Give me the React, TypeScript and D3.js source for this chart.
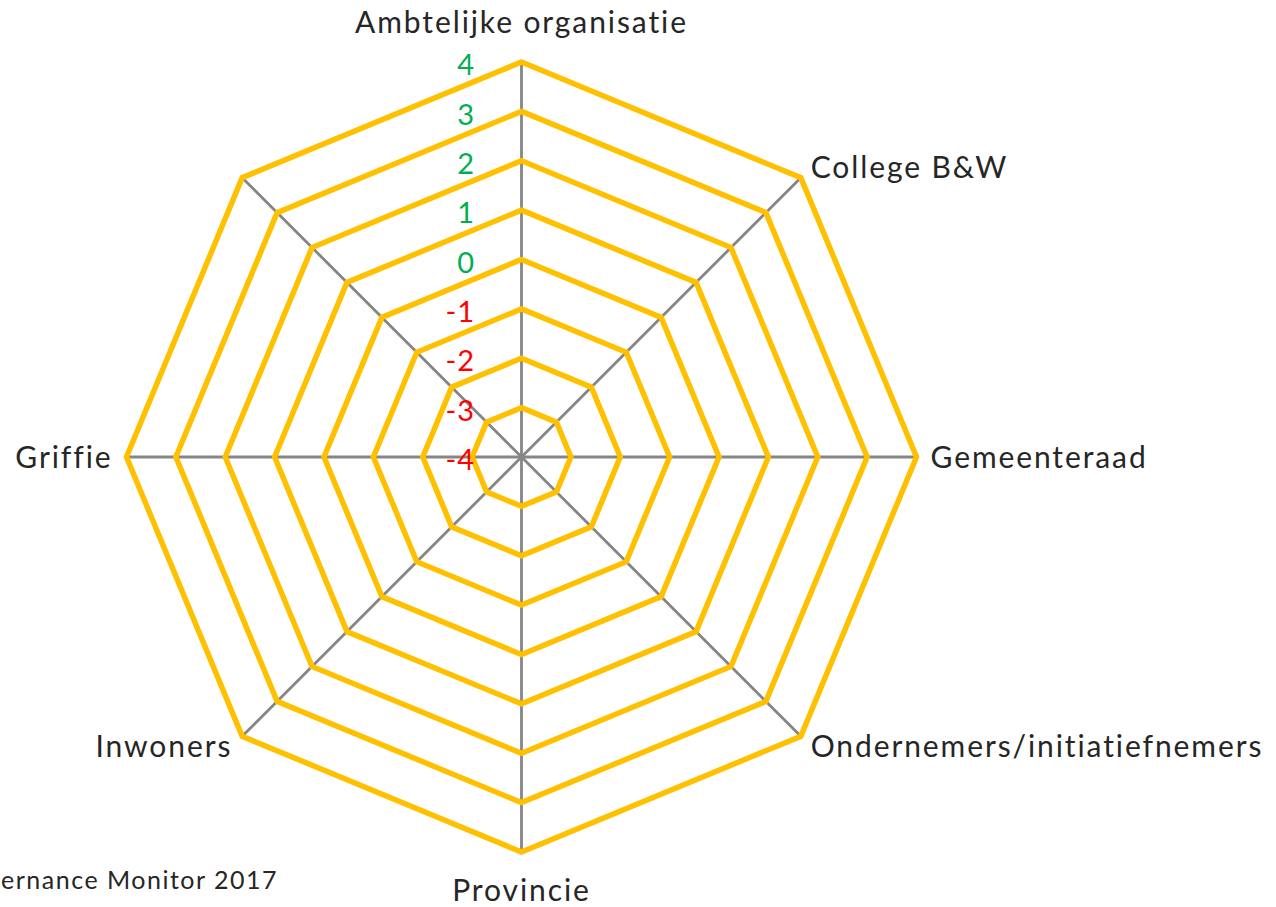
import React from "react";
import * as d3 from "d3";

// axis names, clockwise from the top
const spokes = [
  "Ambtelijke organisatie",
  "College B&W",
  "Gemeenteraad",
  "Ondernemers/initiatiefnemers",
  "Provincie",
  "Inwoners",
  "Griffie",
  "",
];
const levels = [-4, -3, -2, -1, 0, 1, 2, 3, 4];
const tickLabels = ["-4", "-3", "-2", "-1", "0", "1", "2", "3", "4"];
const source = "Governance Monitor 2017";

const width = 1276;
const height = 907;
const cx = 521.5;
const cy = 457;
const font = "Lato, 'Open Sans', sans-serif";

const App = () => {
  const r = d3.scaleLinear().domain([-4, 4]).range([0, 395]);
  const angle = d3
    .scaleLinear()
    .domain([0, spokes.length])
    .range([0, 2 * Math.PI]);

  const pt = (i: number, rad: number): [number, number] => [
    cx + rad * Math.sin(angle(i)),
    cy - rad * Math.cos(angle(i)),
  ];

  const ringPath = (lv: number) =>
    d3.line()(spokes.map((_, i) => pt(i, r(lv)))) + "Z";

  const labelPos = (i: number) => {
    const a = angle(i);
    const s = Math.sin(a);
    const c = Math.cos(a);
    let [x, y] = pt(i, r(4) + 14);
    let anchor = "middle";
    if (s > 0.1) anchor = "start";
    if (s < -0.1) anchor = "end";
    let dy = "0.35em";
    if (c > 0.9) {
      y = cy - r(4) - 29;
      dy = "0";
    }
    if (c < -0.9) {
      y = cy + r(4) + 38;
    }
    return { x, y, anchor, dy };
  };

  return (
    <svg
      width={width}
      height={height}
      style={{ position: "absolute", left: 0, top: 0, background: "#fff" }}
    >
      <g>
        {spokes.map((_, i) => {
          const [x, y] = pt(i, r(4));
          return (
            <line
              key={"s" + i}
              x1={cx}
              y1={cy}
              x2={x}
              y2={y}
              stroke="#868686"
              strokeWidth={2.8}
            />
          );
        })}
      </g>
      <g>
        {levels.slice(1).map((lv) => (
          <path
            key={"r" + lv}
            d={ringPath(lv)}
            fill="none"
            stroke="#FFC000"
            strokeWidth={5.5}
            strokeLinejoin="miter"
          />
        ))}
      </g>
      <g fontFamily={font} fontSize={29} textAnchor="end" letterSpacing={1}>
        {levels.map((lv, i) => (
          <text
            key={"t" + lv}
            x={475}
            y={cy - r(lv) + 3}
            dy="0.35em"
            fill={lv < 0 ? "#FF0000" : "#00B050"}
          >
            {tickLabels[i]}
          </text>
        ))}
      </g>
      <g fontFamily={font} fontSize={30} fill="#262626" letterSpacing={1.9}>
        {spokes.slice(0, 7).map((name, i) => {
          const p = labelPos(i);
          return (
            <text key={"l" + i} x={p.x} y={p.y} dy={p.dy} textAnchor={p.anchor}>
              {name}
            </text>
          );
        })}
      </g>
      <text
        x={278}
        y={880}
        dy="0.35em"
        textAnchor="end"
        fontFamily={font}
        fontSize={25}
        letterSpacing={1.5}
        fill="#262626"
      >
        {source}
      </text>
    </svg>
  );
};

export default App;
